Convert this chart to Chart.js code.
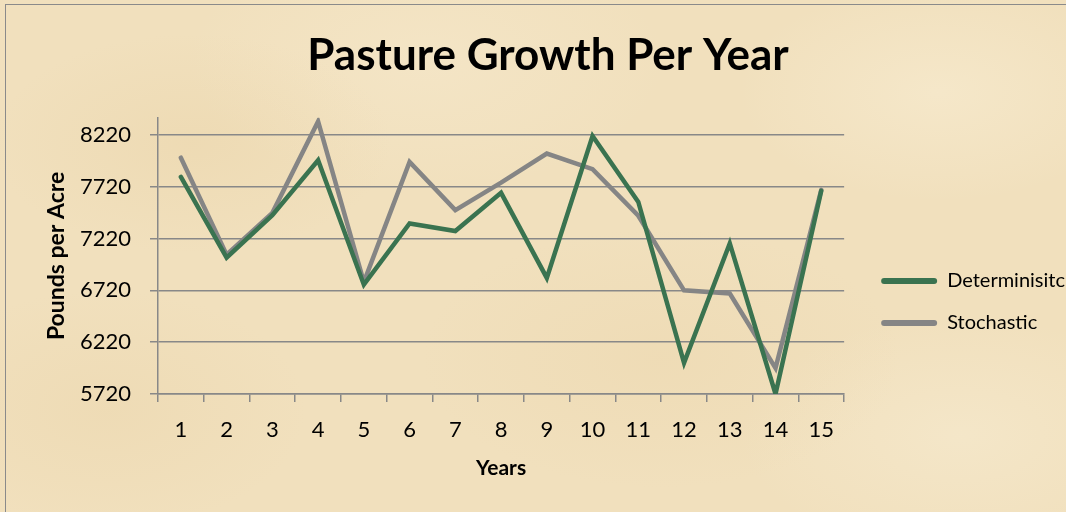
<!DOCTYPE html>
<html>
<head>
<meta charset="utf-8">
<script src="https://cdn.jsdelivr.net/npm/chart.js@4.4.1/dist/chart.umd.min.js"></script>
<style>
  html, body { margin: 0; padding: 0; }
  body {
    width: 1066px; height: 512px; overflow: hidden; position: relative;
    background-color: #f1e0bd;
    background-image:
      radial-gradient(ellipse 200px 110px at 18% 28%, rgba(228,202,152,0.25), transparent),
      radial-gradient(ellipse 240px 130px at 62% 70%, rgba(230,204,156,0.22), transparent),
      radial-gradient(ellipse 200px 110px at 88% 18%, rgba(250,240,216,0.45), transparent),
      radial-gradient(ellipse 240px 130px at 40% 12%, rgba(248,236,210,0.40), transparent),
      radial-gradient(ellipse 200px 120px at 10% 80%, rgba(230,205,158,0.25), transparent),
      radial-gradient(ellipse 220px 120px at 90% 85%, rgba(248,238,214,0.45), transparent);
  }
  #frame {
    position: absolute; left: 5px; top: 4px; right: -2px; bottom: -2px;
    border-left: 1.5px solid #8a8a8a; border-top: 1.5px solid #8a8a8a;
  }
  canvas { position: absolute; left: 0; top: 0; }
</style>
</head>
<body>
<div id="frame"></div>
<canvas id="pastureChart" width="1066" height="512"></canvas>
<script>
// values
const years = ["1", "2", "3", "4", "5", "6", "7", "8", "9", "10", "11", "12", "13", "14", "15"];
const deterministic = [7815, 7035, 7446, 7976, 6775, 7366, 7292, 7661, 6840, 8210, 7574, 6020, 7173, 5720, 7680];
const stochastic = [8000, 7065, 7468, 8350, 6800, 7960, 7494, 7760, 8040, 7890, 7440, 6720, 6690, 5970, 7690];
const yTicks = [5720, 6220, 6720, 7220, 7720, 8220];

const green = "#3a7350";
const grey = "#858585";
const gridColor = "#888888";
const font = "Lato";

function drawChart() {
    const ctx = document.getElementById("pastureChart").getContext("2d");

    new Chart(ctx, {
        type: "line",
        data: {
            labels: years,
            datasets: [{
                label: "Determinisitc",
                data: deterministic,
                borderColor: green,
                backgroundColor: green,
                borderWidth: 4.5,
                pointRadius: 0,
                tension: 0,
                borderCapStyle: "round"
            }, {
                label: "Stochastic",
                data: stochastic,
                borderColor: grey,
                backgroundColor: grey,
                borderWidth: 4.5,
                pointRadius: 0,
                tension: 0,
                borderCapStyle: "round"
            }]
        },
        options: {
            responsive: false,
            animation: false,
            layout: { padding: { left: 21, right: -9, top: 0, bottom: 0 } },
            plugins: {
                title: {
                    display: true,
                    text: "Pasture Growth Per Year",
                    color: "#000",
                    font: { family: font, size: 44, weight: "bold" },
                    padding: { top: 29, bottom: 36 }
                },
                legend: {
                    position: "right",
                    maxWidth: 300,
                    // empty title only pushes the two entries down
                    title: { display: true, text: "", font: { size: 10 }, padding: { top: 80, bottom: 0 } },
                    labels: {
                        color: "#000",
                        font: { family: font, size: 20 },
                        boxWidth: 56,
                        boxHeight: 6,
                        padding: 22,
                        useBorderRadius: true,
                        borderRadius: 3,
                        generateLabels: chart =>
                            Chart.defaults.plugins.legend.labels.generateLabels(chart)
                                .map(l => ({ ...l, lineWidth: 0, fillStyle: l.strokeStyle }))
                    }
                },
                tooltip: { enabled: false }
            },
            scales: {
                x: {
                    offset: true,
                    afterFit: s => { s.height = 118; },
                    grid: { drawOnChartArea: false, color: gridColor, lineWidth: 1.5, tickLength: 8, offset: true },
                    border: { color: gridColor, width: 1.5 },
                    ticks: { color: "#000", font: { family: font, size: 22 }, padding: 15 },
                    title: {
                        display: true,
                        text: "Years",
                        color: "#000",
                        font: { family: font, size: 21, weight: "bold" },
                        padding: { top: 0, bottom: 31 }
                    }
                },
                y: {
                    min: 5720,
                    max: 8385,
                    afterBuildTicks: axis => { axis.ticks = yTicks.map(v => ({ value: v })); },
                    afterFit: s => { s.width = 137; },
                    grid: { color: gridColor, lineWidth: 1.5, tickLength: 8 },
                    border: { color: gridColor, width: 1.5 },
                    ticks: { color: "#000", font: { family: font, size: 22 }, padding: 19, callback: v => String(v) },
                    title: {
                        display: true,
                        text: "Pounds per Acre",
                        color: "#000",
                        font: { family: font, size: 23, weight: "bold" },
                        padding: { top: 22, bottom: 0 }
                    }
                },
                gap: {
                    position: "right",
                    afterFit: s => { s.width = 15; },
                    grid: { display: false },
                    border: { display: false },
                    ticks: { display: false }
                }
            }
        }
    });
}

window.onload = drawChart;
</script>
</body>
</html>
